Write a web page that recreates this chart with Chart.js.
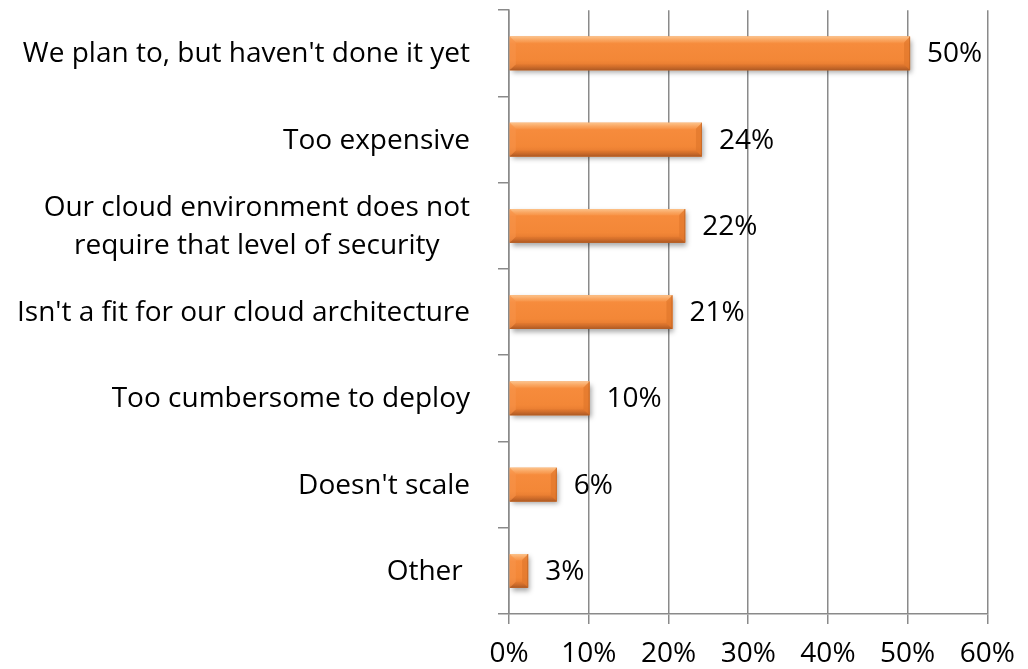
<!DOCTYPE html>
<html>
<head>
<meta charset="utf-8">
<script src="https://cdn.jsdelivr.net/npm/chart.js@4.4.1/dist/chart.umd.min.js"></script>
<style>
  html, body { margin: 0; padding: 0; background: #ffffff; }
  #wrap { width: 1028px; height: 669px; position: relative; }
  canvas { display: block; }
</style>
</head>
<body>
<div id="wrap"><canvas id="c" width="1028" height="669"></canvas></div>
<script>
// ---- data ----
const categories = [
  "We plan to, but haven't done it yet",
  "Too expensive",
  ["Our cloud environment does not", "require that level of security"],
  "Isn't a fit for our cloud architecture",
  "Too cumbersome to deploy",
  "Doesn't scale",
  "Other "
];
const values = [50.3, 24.2, 22.1, 20.5, 10.1, 6.0, 2.4];
const valueLabels = ["50%", "24%", "22%", "21%", "10%", "6%", "3%"];
const xTicks = [0, 10, 20, 30, 40, 50, 60];

const FONT = "'Open Sans', 'DejaVu Sans', sans-serif";
const FONT_SIZE = 28;
const GRID = '#8a8a8a';

// bar shading (bevel) drawn on top of the library's bar elements
const barStyle = {
  id: 'barStyle',
  beforeDatasetsDraw(chart) {
    const ctx = chart.ctx;
    ctx.save();
    ctx.shadowColor = 'rgba(0,0,0,0.35)';
    ctx.shadowBlur = 5;
    ctx.shadowOffsetX = 2;
    ctx.shadowOffsetY = 3;
  },
  afterDatasetsDraw(chart) {
    const ctx = chart.ctx;
    ctx.restore();
    const meta = chart.getDatasetMeta(0);
    meta.data.forEach((el, i) => {
      const p = el.getProps(['x', 'y', 'base', 'height'], true);
      const L = Math.min(p.base, p.x), R = Math.max(p.base, p.x);
      const T = p.y - p.height / 2, B = p.y + p.height / 2;
      const w = R - L, h = B - T;
      const b = Math.min(6, w / 2, h / 2);
      ctx.save();
      // body gradient
      const g = ctx.createLinearGradient(0, T, 0, B);
      g.addColorStop(0, '#FBB377');
      g.addColorStop(0.1, '#F99A4E');
      g.addColorStop(0.22, '#F68B3C');
      g.addColorStop(0.7, '#F38737');
      g.addColorStop(0.88, '#E67B30');
      g.addColorStop(1, '#BB6329');
      ctx.fillStyle = g;
      ctx.fillRect(L, T, w, h);
      // top bevel
      ctx.beginPath();
      ctx.moveTo(L, T); ctx.lineTo(R, T); ctx.lineTo(R - b, T + b); ctx.lineTo(L + b, T + b); ctx.closePath();
      const gt = ctx.createLinearGradient(0, T, 0, T + b);
      gt.addColorStop(0, 'rgba(252,196,140,0.85)');
      gt.addColorStop(1, 'rgba(249,160,90,0.35)');
      ctx.fillStyle = gt; ctx.fill();
      // bottom bevel
      ctx.beginPath();
      ctx.moveTo(L, B); ctx.lineTo(R, B); ctx.lineTo(R - b, B - b); ctx.lineTo(L + b, B - b); ctx.closePath();
      const gb = ctx.createLinearGradient(0, B - b, 0, B);
      gb.addColorStop(0, 'rgba(220,116,44,0.5)');
      gb.addColorStop(1, 'rgba(176,90,36,0.95)');
      ctx.fillStyle = gb; ctx.fill();
      // right bevel
      ctx.beginPath();
      ctx.moveTo(R, T); ctx.lineTo(R, B); ctx.lineTo(R - b, B - b); ctx.lineTo(R - b, T + b); ctx.closePath();
      ctx.fillStyle = 'rgba(222,116,42,0.6)'; ctx.fill();
      // left bevel
      ctx.beginPath();
      ctx.moveTo(L, T); ctx.lineTo(L, B); ctx.lineTo(L + b, B - b); ctx.lineTo(L + b, T + b); ctx.closePath();
      ctx.fillStyle = 'rgba(248,150,80,0.45)'; ctx.fill();
      // thin dark outline at bottom/right
      ctx.strokeStyle = 'rgba(180,94,36,0.55)';
      ctx.lineWidth = 1;
      ctx.beginPath();
      ctx.moveTo(L, B - 0.5); ctx.lineTo(R - 0.5, B - 0.5); ctx.lineTo(R - 0.5, T);
      ctx.stroke();
      ctx.restore();

      // value label
      ctx.save();
      ctx.font = FONT_SIZE + 'px ' + FONT;
      ctx.fillStyle = '#000';
      ctx.textAlign = 'left';
      ctx.textBaseline = 'middle';
      ctx.fillText(valueLabels[i], R + 17, p.y + 1);
      ctx.restore();
    });
  }
};

// category labels (multi-line centred as a block, block right-aligned)
const catLabels = {
  id: 'catLabels',
  afterDraw(chart) {
    const ctx = chart.ctx;
    const ys = chart.scales.y;
    const right = chart.chartArea.left - 39;
    ctx.save();
    ctx.font = FONT_SIZE + 'px ' + FONT;
    ctx.fillStyle = '#000';
    ctx.textBaseline = 'middle';
    ctx.textAlign = 'center';
    const lh = 38.5;
    categories.forEach((c, i) => {
      const lines = Array.isArray(c) ? c : [c];
      const widths = lines.map(l => ctx.measureText(l).width);
      const maxW = Math.max(...widths);
      const cx = right - maxW / 2;
      const cy = ys.getPixelForValue(i);
      lines.forEach((l, k) => {
        const y = cy + (k - (lines.length - 1) / 2) * lh;
        ctx.fillText(l, cx, y + 1);
      });
    });
    ctx.restore();
  }
};

new Chart(document.getElementById('c'), {
  type: 'bar',
  data: {
    labels: categories,
    datasets: [{
      data: values,
      backgroundColor: '#F58A3A',
      borderWidth: 0,
      barPercentage: 0.39,
      categoryPercentage: 1
    }]
  },
  options: {
    indexAxis: 'y',
    responsive: false,
    animation: false,
    devicePixelRatio: 1,
    layout: { padding: { top: 9.5, right: 39, left: 0, bottom: 0 } },
    plugins: { legend: { display: false }, tooltip: { enabled: false } },
    scales: {
      x: {
        min: 0, max: 60,
        afterBuildTicks(scale) { scale.ticks = xTicks.map(v => ({ value: v })); },
        afterFit(scale) { scale.height = 55; },
        grid: { color: GRID, lineWidth: 1.5, drawTicks: true, tickLength: 10 },
        border: { display: true, color: GRID, width: 1.5 },
        ticks: {
          font: { family: FONT, size: FONT_SIZE },
          color: '#000',
          padding: 13,
          maxRotation: 0,
          callback: v => v + '%'
        }
      },
      y: {
        afterFit(scale) { scale.width = 509; },
        grid: { display: true, drawOnChartArea: false, drawTicks: true, tickLength: 11, color: GRID, lineWidth: 1.5, offset: true },
        border: { display: true, color: GRID, width: 1.5 },
        ticks: {
          color: 'rgba(0,0,0,0)',
          font: { family: FONT, size: 12 },
          callback: () => ''
        }
      }
    }
  },
  plugins: [barStyle, catLabels]
});
</script>
</body>
</html>
